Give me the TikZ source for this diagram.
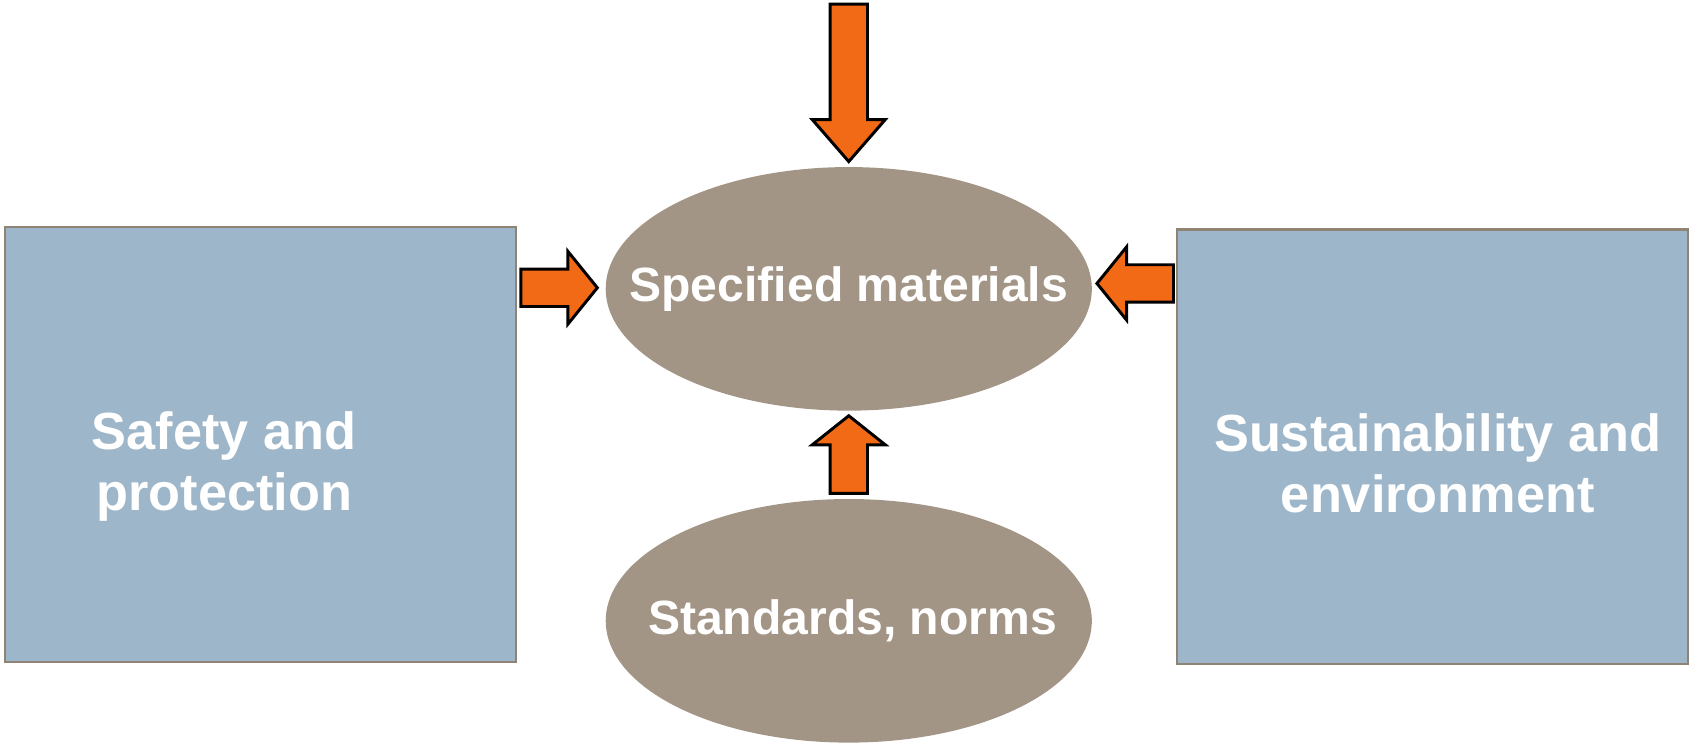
\documentclass[tikz,border=0pt]{standalone}
\usepackage{xcolor}
\usepackage{fontspec}
\setmainfont{Liberation Sans}
\usepackage{tikz}
\usetikzlibrary{shapes, positioning}
\definecolor{boxblue}{HTML}{9EB6C9}
\definecolor{boxedge}{HTML}{8F8375}
\definecolor{ovaltan}{HTML}{A39585}
\definecolor{arroworange}{HTML}{F26A15}
\tikzset{
    boxnode/.style = {draw=boxedge, fill=boxblue, rectangle, line width=0.04cm, inner sep = 0em, 
      node distance=0em, minimum width=9.48cm, minimum height=8.06cm},
    ovalnode/.style = {ellipse, fill=ovaltan, inner sep = 0em, node distance=0em, 
      minimum width=9.02cm, minimum height=4.52cm},
    textnode/.style  = {draw=none, fill=none, rectangle, minimum size=0cm, inner sep = 0em, 
      node distance=0em, text=white, font=\fontsize{25.4}{30}\selectfont\bfseries},
    bigtextnode/.style  = {textnode, font=\fontsize{27.6}{32}\selectfont\bfseries},
    arrownode/.style = {single arrow, draw=black, fill=arroworange, line width=0.055cm, 
      inner sep = 0.32cm, single arrow head extend=0.33cm, node distance=0em},
    every text node part/.style={align=center}
}
\begin{document}
\begin{tikzpicture}
    \useasboundingbox (-15.75,-8.44) rectangle (15.61,5.36);

    \node [name=spec, ovalnode] at (0,0) {}; 
    \node [name=spectext, textnode, right of = spec] {Specified materials}; 
    \node [name=std, ovalnode, right of = spec, yshift=-6.16cm] {}; 
    \node [name=stdtext, textnode, right of = std, xshift=0.07cm] {Standards, norms}; 

    \node [name=safety, boxnode, right of = spec, xshift=-10.91cm, yshift=-2.89cm] {}; 
    \node [name=safetytext, bigtextnode, right of = safety, xshift=-0.68cm, yshift=-0.41cm] 
        {Safety and\\protection}; 
    \node [name=sustain, boxnode, right of = spec, xshift=10.83cm, yshift=-2.93cm] {}; 
    \node [name=sustaintext, bigtextnode, right of = sustain, xshift=0.1cm, yshift=-0.31cm] 
        {Sustainability and\\environment}; 

    % block arrows, placed by their tips
    \node [name=toparrow, arrownode, right of = spec, anchor=tip, yshift=2.32cm, rotate=-90, 
        single arrow tip angle=82, minimum height=2.92cm] {}; 
    \node [name=leftarrow, arrownode, right of = spec, anchor=tip, xshift=-4.63cm, yshift=0.02cm, 
        single arrow tip angle=102, minimum height=1.42cm] {}; 
    \node [name=rightarrow, arrownode, right of = spec, anchor=tip, xshift=4.57cm, yshift=0.1cm, 
        rotate=180, single arrow tip angle=102, minimum height=1.42cm] {}; 
    \node [name=bottomarrow, arrownode, right of = spec, anchor=tip, yshift=-2.32cm, rotate=90, 
        single arrow tip angle=103, minimum height=1.44cm] {}; 
\end{tikzpicture}
\end{document}
